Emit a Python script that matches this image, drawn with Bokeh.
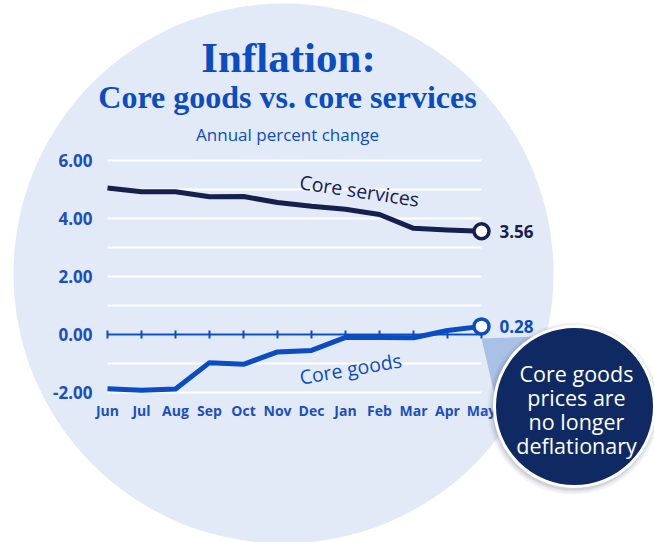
from bokeh.plotting import figure
from bokeh.models import Range1d
from bokeh.core.properties import value
from bokeh.embed import file_html
from bokeh.resources import INLINE

# ---- data ----
months = ["Jun", "Jul", "Aug", "Sep", "Oct", "Nov", "Dec", "Jan", "Feb", "Mar", "Apr", "May"]
core_services = [5.05, 4.92, 4.92, 4.75, 4.76, 4.55, 4.42, 4.32, 4.14, 3.66, 3.60, 3.56]
core_goods = [-1.87, -1.92, -1.88, -0.97, -1.03, -0.60, -0.55, -0.10, -0.10, -0.11, 0.14, 0.28]
y_ticks = [-2, 0, 2, 4, 6]
grid_levels = [-2, -1, 0, 1, 2, 3, 4, 5, 6]

W, H = 654, 542
# pixel placement of the chart grid inside the canvas
X0, DX = 107, 34.0   # first month, pixels per month
Y0, DY = 334, 29.0   # zero line, pixels per percentage point


def dx(px):
    return (px - X0) / DX


def dy(py):
    return (Y0 - py) / DY


NAVY = "#15204f"
BLUE = "#0a4cc2"
TICK = "#1b4fbf"
BG = "#e3eaf7"
CALLOUT = "#0f2a63"
WEDGE = "#a9c0e7"
SANS = value("Open Sans")
SERIF = value("Liberation Serif")

p = figure(width=W, height=H, output_backend="svg", toolbar_location=None,
           x_range=Range1d(dx(0), dx(W)), y_range=Range1d(dy(H), dy(0)),
           min_border=0, x_axis_location=None, y_axis_location=None,
           background_fill_color="white", border_fill_color="white",
           outline_line_color=None)
p.grid.visible = False

# big background disc
p.circle(x=[dx(283)], y=[dy(273)], radius=270, radius_units="screen",
         fill_color=BG, line_color=None)

# titles
p.text(x=[dx(288)], y=[dy(57)], text=["Inflation:"], text_font=SERIF,
       text_font_style="bold", text_font_size="43px", text_color=BLUE,
       text_align="center", text_baseline="middle")
p.text(x=[dx(287)], y=[dy(96)], text=["Core goods vs. core services"], text_font=SERIF,
       text_font_style="bold", text_font_size="32px", text_color=BLUE,
       text_align="center", text_baseline="middle")
p.text(x=[dx(287)], y=[dy(134)], text=["Annual percent change"], text_font=SANS,
       text_font_size="17px", text_color=BLUE,
       text_align="center", text_baseline="middle")

# horizontal gridlines
n = len(months)
p.segment(x0=[0] * len(grid_levels), x1=[n - 1] * len(grid_levels),
          y0=grid_levels, y1=grid_levels, line_color="white", line_width=2)

# zero axis with month ticks
idx = list(range(n))
tick_half = 4 / DY
p.segment(x0=[0], x1=[n - 1], y0=[0], y1=[0], line_color=BLUE, line_width=2)
p.segment(x0=idx, x1=idx, y0=[-tick_half] * n, y1=[tick_half] * n,
          line_color=BLUE, line_width=2)

# y tick labels
p.text(x=[dx(92)] * len(y_ticks), y=y_ticks, text=[f"{v:.2f}" for v in y_ticks],
       text_font=SANS, text_font_style="bold", text_font_size="17px",
       text_color=TICK, text_align="right", text_baseline="middle")

# month labels
p.text(x=idx, y=[dy(410)] * n, text=months, text_font=SANS, text_font_style="bold",
       text_font_size="14px", text_color=TICK, text_align="center",
       text_baseline="middle")

# callout pointer
cx, cy, cr = 574, 406, 80
p.patch(x=[dx(481), dx(536), dx(cx), dx(495)], y=[dy(338), dy(336), dy(cy), dy(398)],
        fill_color=WEDGE, line_color=None)

# series lines
p.line(idx, core_services, line_color=NAVY, line_width=5, line_join="round")
p.line(idx, core_goods, line_color=BLUE, line_width=5, line_join="round")

# end markers
p.scatter([n - 1], [core_services[-1]], marker="circle", size=15, fill_color="white",
          line_color=NAVY, line_width=3.5)
p.scatter([n - 1], [core_goods[-1]], marker="circle", size=15, fill_color="white",
          line_color=BLUE, line_width=3.5)

# end values
p.text(x=[n - 1 + 18 / DX], y=[core_services[-1]], text=[f"{core_services[-1]:.2f}"],
       text_font=SANS, text_font_style="bold", text_font_size="17px", text_color=NAVY,
       text_align="left", text_baseline="middle")
p.text(x=[n - 1 + 18 / DX], y=[core_goods[-1]], text=[f"{core_goods[-1]:.2f}"],
       text_font=SANS, text_font_style="bold", text_font_size="17px", text_color=BLUE,
       text_align="left", text_baseline="middle")

# series names along the lines
p.text(x=[dx(359)], y=[dy(190)], text=["Core services"], angle=-0.15, text_font=SANS,
       text_font_size="19.5px", text_color=NAVY, text_align="center",
       text_baseline="middle")
p.text(x=[dx(350)], y=[dy(368)], text=["Core goods"], angle=0.17, text_font=SANS,
       text_font_size="19.5px", text_color=BLUE, text_align="center",
       text_baseline="middle")

# callout bubble with soft shadow
for r, a in [(86, 0.06), (84, 0.08), (82, 0.12)]:
    p.circle(x=[dx(cx - 1)], y=[dy(cy + 2)], radius=r, radius_units="screen",
             fill_color="#404a60", fill_alpha=a, line_color=None)
p.circle(x=[dx(cx)], y=[dy(cy)], radius=cr, radius_units="screen",
         fill_color=CALLOUT, line_color="white", line_width=3)
callout_lines = ["Core goods", "prices are", "no longer", "deflationary"]
p.text(x=[dx(576)] * 4, y=[dy(373 + 24 * i) for i in range(4)], text=callout_lines,
       text_font=SANS, text_font_size="21.5px", text_color="white",
       text_align="center", text_baseline="middle")

open("out.html", "w").write(file_html(p, INLINE))
